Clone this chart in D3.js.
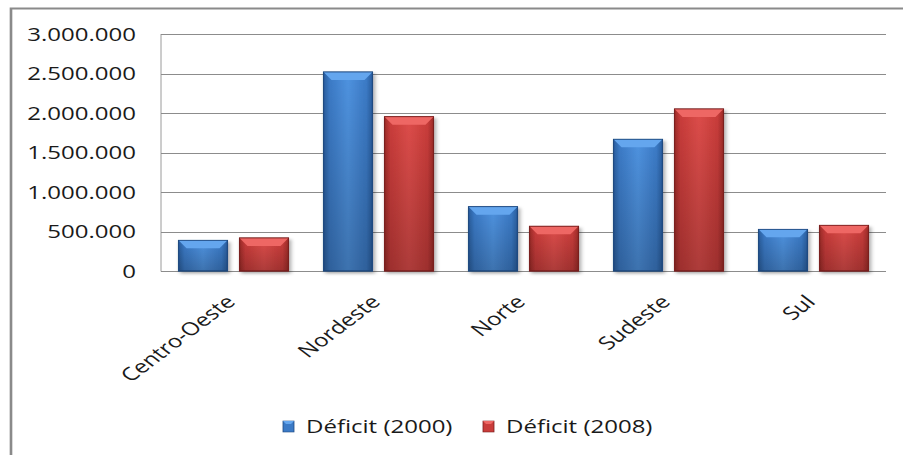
<!DOCTYPE html>
<html>
<head>
<meta charset="utf-8">
<script src="https://cdn.jsdelivr.net/npm/d3@7"></script>
<style>
  html, body { margin: 0; padding: 0; background: #fff; }
  svg text { font-family: "Open Sans", sans-serif; fill: #1a1a1a; }
</style>
</head>
<body>
<div id="chart"></div>
<script>
const categories = ["Centro-Oeste", "Nordeste", "Norte", "Sudeste", "Sul"];
const seriesNames = ["Déficit (2000)", "Déficit (2008)"];
const deficit2000 = [388000, 2519000, 814000, 1667000, 527000];
const deficit2008 = [418000, 1953000, 566000, 2051000, 578000];
const yTicks = [0, 500000, 1000000, 1500000, 2000000, 2500000, 3000000];

const W = 903, H = 455;
// the original picture is stretched sideways, so everything is drawn narrow and scaled out
const sx = 1.32;
const plot = { left: 161, right: 886, top: 34, bottom: 271 };
const fontSize = "18.2px";

const rows = categories.map((c, i) => ({ cat: c, values: [deficit2000[i], deficit2008[i]] }));

const palette = [
    { main: "#3b7ac6", light: "#4f93e0", dark: "#2a5e9e", bevel: "#64a6ee", edge: "#1f4a80" },
    { main: "#c93c3a", light: "#dd4d4a", dark: "#9e2b29", bevel: "#ee6764", edge: "#7a1f1e" }
];

const svg = d3.select("#chart").append("svg")
    .attr("width", W)
    .attr("height", H);

const defs = svg.append("defs");
palette.forEach((p, i) => {
    const g = defs.append("linearGradient")
        .attr("id", "body" + i)
        .attr("x1", 0).attr("x2", 1).attr("y1", 0).attr("y2", 0);
    g.append("stop").attr("offset", "0%").attr("stop-color", p.dark);
    g.append("stop").attr("offset", "12%").attr("stop-color", p.main);
    g.append("stop").attr("offset", "50%").attr("stop-color", p.light);
    g.append("stop").attr("offset", "88%").attr("stop-color", p.main);
    g.append("stop").attr("offset", "100%").attr("stop-color", p.dark);
    const v = defs.append("linearGradient")
        .attr("id", "shade" + i)
        .attr("x1", 0).attr("x2", 0).attr("y1", 0).attr("y2", 1);
    v.append("stop").attr("offset", "0%").attr("stop-color", "#000").attr("stop-opacity", 0);
    v.append("stop").attr("offset", "100%").attr("stop-color", "#000").attr("stop-opacity", 0.22);
});
const shadow = defs.append("filter").attr("id", "shadow")
    .attr("x", "-20%").attr("y", "-20%").attr("width", "150%").attr("height", "150%");
shadow.append("feDropShadow")
    .attr("dx", 1.5).attr("dy", 2).attr("stdDeviation", 1.8)
    .attr("flood-color", "#000").attr("flood-opacity", 0.35);

const root = svg.append("g").attr("transform", `scale(${sx},1)`);

// outer chart frame (runs off the right and bottom of the picture)
root.append("rect")
    .attr("x", 11 / sx).attr("y", 8.5)
    .attr("width", 1000).attr("height", 600)
    .attr("fill", "none")
    .attr("stroke", "#8a8a8a")
    .attr("stroke-width", 2);

const x0 = d3.scaleBand()
    .domain(categories)
    .range([plot.left / sx, plot.right / sx]);

const x1 = d3.scaleBand()
    .domain([0, 1])
    .range([0, x0.bandwidth()])
    .paddingInner(0.197)
    .paddingOuter(0.287);

const y = d3.scaleLinear()
    .domain([0, 3000000])
    .range([plot.bottom, plot.top]);

const fmt = v => d3.format(",")(v).replace(/,/g, ".");

// gridlines
root.append("g")
    .selectAll("line")
    .data(yTicks)
    .join("line")
    .attr("x1", plot.left / sx)
    .attr("x2", plot.right / sx)
    .attr("y1", d => Math.round(y(d)) + 0.5)
    .attr("y2", d => Math.round(y(d)) + 0.5)
    .attr("stroke", "#8c8c8c")
    .attr("stroke-width", 1);

// left edge of the plot area
root.append("line")
    .attr("x1", plot.left / sx).attr("x2", plot.left / sx)
    .attr("y1", y(3000000)).attr("y2", y(0) + 0.5)
    .attr("stroke", "#8c8c8c")
    .attr("stroke-width", 1 / sx);

// y axis labels
root.append("g")
    .selectAll("text")
    .data(yTicks)
    .join("text")
    .attr("x", 136 / sx)
    .attr("y", d => y(d))
    .attr("dy", "0.36em")
    .attr("text-anchor", "end")
    .style("font-size", fontSize)
    .text(fmt);

// bars
const groups = root.append("g")
    .selectAll("g")
    .data(rows)
    .join("g")
    .attr("transform", d => `translate(${x0(d.cat)},0)`);

const bars = groups.selectAll("g")
    .data(d => d.values.map((v, i) => ({ i, v })))
    .join("g");

const bevel = 8;
bars.append("rect")
    .attr("x", d => x1(d.i))
    .attr("y", d => y(d.v))
    .attr("width", x1.bandwidth())
    .attr("height", d => y(0) - y(d.v))
    .attr("fill", d => `url(#body${d.i})`)
    .attr("stroke", d => palette[d.i].edge)
    .attr("stroke-width", 0.8)
    .attr("filter", "url(#shadow)");

bars.append("rect")
    .attr("x", d => x1(d.i))
    .attr("y", d => y(d.v))
    .attr("width", x1.bandwidth())
    .attr("height", d => y(0) - y(d.v))
    .attr("fill", d => `url(#shade${d.i})`);

// bevelled top edge
bars.append("path")
    .attr("d", d => {
        const a = x1(d.i), b = a + x1.bandwidth(), t = y(d.v), k = bevel / sx;
        return `M${a},${t}L${b},${t}L${b - k},${t + bevel}L${a + k},${t + bevel}Z`;
    })
    .attr("fill", d => palette[d.i].bevel);

bars.append("rect")
    .attr("x", d => x1(d.i))
    .attr("y", d => y(d.v))
    .attr("width", x1.bandwidth())
    .attr("height", d => y(0) - y(d.v))
    .attr("fill", "none")
    .attr("stroke", d => palette[d.i].edge)
    .attr("stroke-width", 0.8);

// category labels
root.append("g")
    .selectAll("text")
    .data(categories)
    .join("text")
    .attr("transform", d => `translate(${x0(d) + x0.bandwidth() / 2 + 3 / sx},303) rotate(-45)`)
    .attr("text-anchor", "end")
    .style("font-size", fontSize)
    .text(d => d);

// legend
const legendX = [283, 483];
const legend = root.append("g")
    .selectAll("g")
    .data(seriesNames)
    .join("g")
    .attr("transform", (d, i) => `translate(${legendX[i] / sx},421)`);

legend.append("rect")
    .attr("width", 11 / sx)
    .attr("height", 11)
    .attr("fill", (d, i) => palette[i].main)
    .attr("stroke", (d, i) => palette[i].edge)
    .attr("stroke-width", 0.6);

legend.append("path")
    .attr("d", 
        `M0,0L${11 / sx},0L${8 / sx},3L${3 / sx},3Z`)
    .attr("fill", (d, i) => palette[i].bevel);

legend.append("text")
    .attr("x", 23 / sx)
    .attr("y", 5.5)
    .attr("dy", "0.36em")
    .style("font-size", fontSize)
    .text(d => d);
</script>
</body>
</html>
